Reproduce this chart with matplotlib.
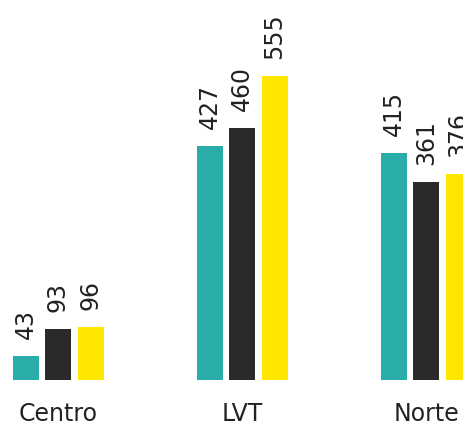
import numpy as np
import matplotlib.pyplot as plt

regions = ["Centro", "LVT", "Norte"]
serie_a = [43, 427, 415]
serie_b = [93, 460, 361]
serie_c = [96, 555, 376]
colors = ["#2AADA9", "#2A2A2A", "#FFE600"]

W, H = 464, 427
fig = plt.figure(figsize=(W / 100, H / 100), dpi=100)
ax = fig.add_axes([0, 46 / H, 1, 1 - 46 / H])

x = np.arange(len(regions))
width = 26 / 184
step = 32.5 / 184

for k, (vals, c) in enumerate(zip([serie_a, serie_b, serie_c], colors)):
    pos = x + (k - 1) * step
    ax.bar(pos, vals, width=width, color=c)
    for p, v in zip(pos, vals):
        ax.annotate(str(v), (p, v), xytext=(0, 13), textcoords="offset points",
                    rotation=90, ha="center", va="bottom", fontsize=17,
                    color="#222222")

for i, r in enumerate(regions):
    ax.annotate(r, (i, 0), xytext=(0, -24), textcoords="offset points",
                ha="center", va="center", fontsize=17, color="#222222",
                annotation_clip=False)

ax.set_xlim(-58 / 184, (W - 58) / 184)
ax.set_ylim(0, 381 / 0.548)
ax.axis("off")

fig.savefig("out.png", dpi=100)
